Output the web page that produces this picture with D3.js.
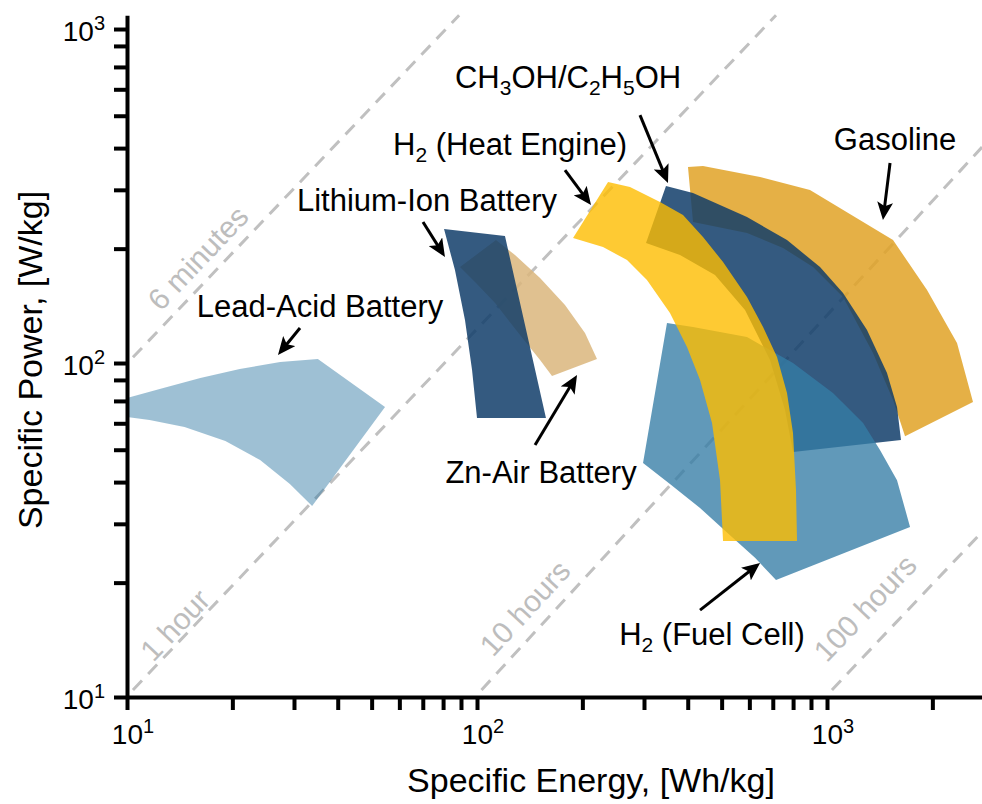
<!DOCTYPE html>
<html>
<head>
<meta charset="utf-8">
<script src="https://cdn.jsdelivr.net/npm/d3@7"></script>
<style>
  body { margin: 0; background: #ffffff; }
  svg { display: block; }
  text { font-family: "Liberation Sans", Arial, Helvetica, sans-serif; }
</style>
</head>
<body>
<svg id="chart" width="982" height="804"></svg>
<script>
// ---- Data: region outlines as [specific energy (Wh/kg), specific power (W/kg)] ----
const leadAcid = [[10,78.6],[12.4,83.6],[16.2,90.2],[21,95.9],[27.4,100.7],[35.1,102.8],[54.6,73.8],
  [33.8,37.3],[29.2,43.4],[24,51.2],[19.1,58.4],[14.6,64.3],[11.6,67.5],[10,68.9]];
const znAir = [[113.3,233.5],[128.4,210.6],[151.4,179.7],[178.4,149.2],[203.5,123],[220.2,102.8],
  [163.8,91.4],[151.4,102.1],[132.7,121.3],[112.6,151.2],[98.7,174.8],[89.4,193.8]];
const lithiumIon = [[80.5,251.8],[120.2,240],[157.4,68.4],[100,68.4],[96.8,95.3],[92.4,134.5],[86.5,189.8]];
const gasoline = [[400.7,386.2],[442.3,388.9],[643.8,360.6],[894.1,329.6],[1544,233.5],[1931,165.4],
  [2352,114.8],[2613,76.4],[1671,60.4],[1544,77.5],[1353,107.1],[1111,157.6],[912,193.8],
  [748.7,221],[590.7,245],[414.1,264.4]];
const alcohols = [[346.7,338.8],[414.1,322.8],[590.7,273.6],[768.6,233.5],[955,193.8],[1111,162],
  [1301,125.6],[1484,93.3],[1585,73.8],[1627,58.8],[799.6,54.1],[758.6,72.3],[687.3,102.1],
  [583.1,144.1],[478.6,183.4],[380.2,210.6],[304,228.7]];
const fuelCell = [[349,131.8],[414.1,128.2],[590.7,119.6],[799.6,100],[1040,81.3],[1268,66.1],
  [1417,54.9],[1585,44.6],[1727,32.3],[715,22.4],[622.8,26.1],[528.3,30.5],[433.7,36.8],
  [355.9,43.4],[298.1,50.2]];
const heatEngine = [[236.8,348.3],[273.6,336.5],[333.3,303.4],[387.8,277.4],[442.3,238.4],[504.6,200.6],
  [590.7,157.6],[656.6,128.2],[719.7,104.2],[768.6,81.3],[799.6,61.7],[815.5,41.7],[821,29.3],
  [504.6,29.3],[494.7,44.6],[469.3,66.1],[433.7,88.9],[398.1,111.7],[355.9,141.1],[305.9,177.2],
  [268.3,203.4],[229.1,222.5],[188.1,236.7]];

// Drawing order, fill colour and opacity of each region
const regions = [
  { name: "lead-acid",   points: leadAcid,   fill: "#357ca5", opacity: 0.48 },
  { name: "zn-air",      points: znAir,      fill: "#dbb67c", opacity: 0.85 },
  { name: "lithium-ion", points: lithiumIon, fill: "#113d6a", opacity: 0.85 },
  { name: "gasoline",    points: gasoline,   fill: "#e0a226", opacity: 0.85 },
  { name: "alcohols",    points: alcohols,   fill: "#113d6a", opacity: 0.85 },
  { name: "fuel-cell",   points: fuelCell,   fill: "#357ca5", opacity: 0.78 },
  { name: "heat-engine", points: heatEngine, fill: "#febd00", opacity: 0.8 }
];

// Constant discharge-time guide lines: endpoints and label anchor
const guideNames = ["6 minutes", "1 hour", "10 hours", "100 hours"];
const guideStarts = [[10.4,104], [10.4,10.5], [103,10.5], [1033,10.5]];
const guideEnds = [[88.9,1100], [715,1100], [2773,443], [2773,31.2]];
const guideLabelAt = [[15.95,206.3], [13.71,16.43], [137.1,18.47], [1284,18.47]];

// Callout labels: text pieces (s = subscript), label anchor, arrow tail, arrow head
const calloutText = [
  [["Lead-Acid Battery"]],
  [["Lithium-Ion Battery"]],
  [["Zn-Air Battery"]],
  [["H"],["2","s"],[" (Heat Engine)"]],
  [["CH"],["3","s"],["OH/C"],["2","s"],["H"],["5","s"],["OH"]],
  [["Gasoline"]],
  [["H"],["2","s"],[" (Fuel Cell)"]]
];
const calloutAt = [[35.6,137.3],[71.97,285.2],[152.4,43.7],[124.3,419.6],[182,666],[1564,434.3],[469.3,14.3]];
const arrowTail = [[31.21,127.3],[70.1,264.4],[146.5,56.8],[178.4,378.2],[292.2,552.6],[1514,397],[433.7,18.2]];
const arrowHead = [[27,105.7],[81,207.7],[193.1,92],[211.7,297.2],[351.3,345.9],[1445,268],[643.8,25.2]];

// Axis ticks
const energyMajor = [10, 100, 1000];
const energyMinor = [20,30,40,50,60,70,80,90,200,300,400,500,600,700,800,900,2000,3000];
const powerMajor = [10, 100, 1000];
const powerMinor = [22,33,44,55,66,77,89,220,330,440,550,660,770,890];
const xTitle = "Specific Energy, [Wh/kg]";
const yTitle = "Specific Power, [W/kg]";

// ---- Chart ----
const W = 982, H = 804;
const svg = d3.select("#chart");
const x = d3.scaleLog().domain([10, 3000]).range([127, 994]);
const y = d3.scaleLog().domain([10, 1100]).range([697, 15.2]);

svg.append("defs").append("clipPath").attr("id", "plot-clip")
  .append("rect").attr("x", x(10)).attr("y", 0).attr("width", W - x(10)).attr("height", y(10));

svg.select("defs").append("marker")
  .attr("id", "arrowhead")
  .attr("viewBox", "0 -8 18 16")
  .attr("refX", 18).attr("refY", 0)
  .attr("markerWidth", 18).attr("markerHeight", 16)
  .attr("markerUnits", "userSpaceOnUse")
  .attr("orient", "auto")
  .append("path").attr("d", "M0,-8L18,0L0,8L4,0Z").attr("fill", "#000");

const plot = svg.append("g").attr("clip-path", "url(#plot-clip)");

// Guide lines
const guideColor = "#c0c0c0";
plot.selectAll("line.guide").data(guideNames).join("line")
  .attr("class", "guide")
  .attr("x1", (d, i) => x(guideStarts[i][0])).attr("y1", (d, i) => y(guideStarts[i][1]))
  .attr("x2", (d, i) => x(guideEnds[i][0])).attr("y2", (d, i) => y(guideEnds[i][1]))
  .attr("stroke", guideColor).attr("stroke-width", 3).attr("stroke-dasharray", "13,9");

plot.selectAll("text.guide-label").data(guideNames).join("text")
  .attr("class", "guide-label")
  .attr("transform", (d, i) => {
    const dx = x(guideEnds[i][0]) - x(guideStarts[i][0]);
    const dy = y(guideEnds[i][1]) - y(guideStarts[i][1]);
    const ang = Math.atan2(dy, dx) * 180 / Math.PI;
    return `translate(${x(guideLabelAt[i][0])},${y(guideLabelAt[i][1])}) rotate(${ang})`;
  })
  .attr("text-anchor", "middle").attr("dy", "0.35em")
  .attr("font-size", 30).attr("fill", "#bdbdbd")
  .text(d => d);

// Regions
const outline = d3.line().x(d => x(d[0])).y(d => y(d[1])).curve(d3.curveLinearClosed);
plot.selectAll("path.region").data(regions).join("path")
  .attr("class", "region")
  .attr("d", d => outline(d.points))
  .attr("fill", d => d.fill)
  .attr("fill-opacity", d => d.opacity);

// Axes
const axisG = svg.append("g");
const xAxis = d3.axisBottom(x).tickValues(energyMajor.concat(energyMinor)).tickFormat("").tickSize(13).tickSizeOuter(0);
const yAxis = d3.axisLeft(y).tickValues(powerMajor.concat(powerMinor)).tickFormat("").tickSize(13).tickSizeOuter(0);
const gx = axisG.append("g").attr("transform", `translate(0,${y(10)})`).call(xAxis);
const gy = axisG.append("g").attr("transform", `translate(${x(10)},0)`).call(yAxis);
[gx, gy].forEach(g => {
  g.select(".domain").attr("stroke", "#000").attr("stroke-width", 4);
  g.selectAll(".tick line").attr("stroke", "#000").attr("stroke-width", 4);
});

function powerOfTen(sel, v) {
  const e = Math.round(Math.log10(v));
  sel.append("tspan").text("10");
  sel.append("tspan").attr("font-size", 20).attr("dy", -11).text(e);
}
energyMajor.forEach(v => {
  const t = axisG.append("text").attr("x", x(v) + 6).attr("y", 744)
    .attr("text-anchor", "middle").attr("font-size", 28).attr("fill", "#000");
  powerOfTen(t, v);
});
powerMajor.forEach(v => {
  const t = axisG.append("text").attr("x", x(10) - 22).attr("y", y(v) + 12)
    .attr("text-anchor", "end").attr("font-size", 28).attr("fill", "#000");
  powerOfTen(t, v);
});

axisG.append("text").attr("x", 591).attr("y", 792).attr("text-anchor", "middle")
  .attr("font-size", 34).attr("fill", "#000").text(xTitle);
axisG.append("text").attr("transform", `translate(42,360) rotate(-90)`)
  .attr("text-anchor", "middle").attr("font-size", 34).attr("fill", "#000").text(yTitle);

// Callouts
const notes = svg.append("g");
calloutText.forEach((pieces, i) => {
  const t = notes.append("text").attr("x", x(calloutAt[i][0])).attr("y", y(calloutAt[i][1]))
    .attr("text-anchor", "middle").attr("font-size", 31).attr("fill", "#000");
  let shifted = false;
  pieces.forEach(([s, kind]) => {
    const sp = t.append("tspan").text(s);
    if (kind === "s") { sp.attr("font-size", 21).attr("dy", 7); shifted = true; }
    else if (shifted) { sp.attr("dy", -7); shifted = false; }
  });
  // arrow, line stops short of the tip so the head stays sharp
  const x1 = x(arrowTail[i][0]), y1 = y(arrowTail[i][1]);
  const x2 = x(arrowHead[i][0]), y2 = y(arrowHead[i][1]);
  const len = Math.hypot(x2 - x1, y2 - y1);
  notes.append("line").attr("x1", x1).attr("y1", y1)
    .attr("x2", x2 - (x2 - x1) / len * 9).attr("y2", y2 - (y2 - y1) / len * 9)
    .attr("stroke", "#000").attr("stroke-width", 3);
  notes.append("path")
    .attr("d", `M${x2 - (x2 - x1) / len * 9},${y2 - (y2 - y1) / len * 9}L${x2},${y2}`)
    .attr("stroke", "none").attr("fill", "none").attr("marker-end", "url(#arrowhead)");
});
</script>
</body>
</html>
